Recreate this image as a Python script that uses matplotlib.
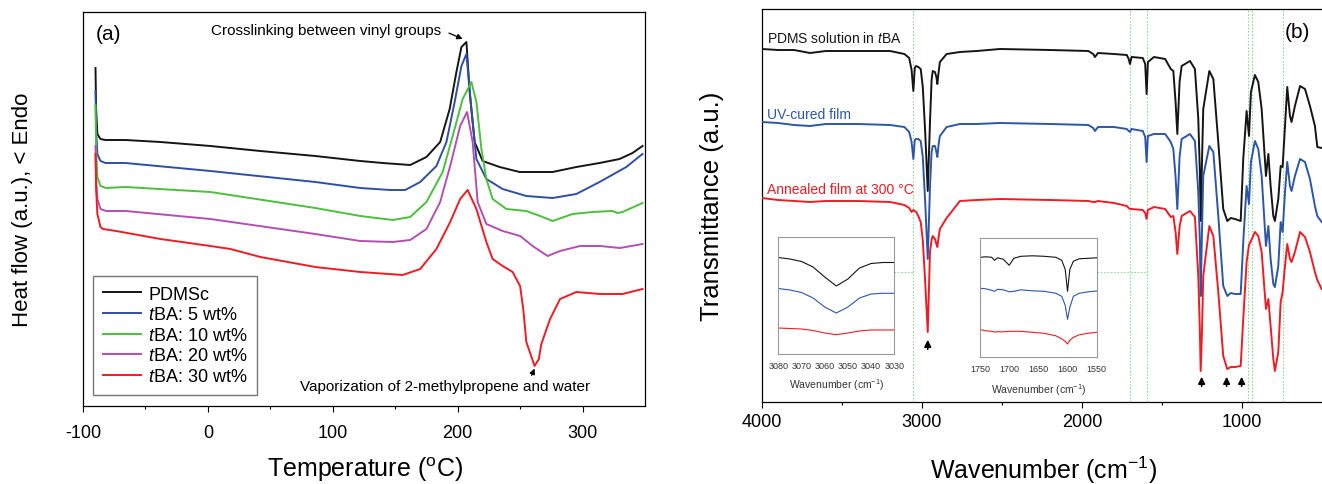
import matplotlib
matplotlib.use("Agg")
import matplotlib.pyplot as plt

plt.rcParams["font.family"] = ["Liberation Sans", "DejaVu Sans"]
plt.rcParams["mathtext.fontset"] = "custom"
plt.rcParams["mathtext.rm"] = "Liberation Sans"
plt.rcParams["mathtext.it"] = "Liberation Sans:italic"
plt.rcParams["axes.unicode_minus"] = False

# ---------------- (a) DSC DATA ----------------
# temperature (C) and heat flow (a.u., offset curves)
T_pdmsc = [-90, -89.5, -88.5, -86, -82, -66, -38, 2, 42, 86, 122, 140, 162, 175,
           186, 193.6, 199, 203, 207, 209.6, 213.6, 220, 233.6, 249.6, 276, 295,
           313.6, 329.6, 340, 348]
H_pdmsc = [338, 297, 272, 267, 266, 266, 264, 260, 255, 250, 245, 243, 241, 249,
           264, 297, 334, 359, 364, 314, 264, 245, 239, 234, 234, 239,
           243, 247, 253, 260]

T_5 = [-90, -89.5, -88.5, -86, -82, -66, 2, 86, 122, 146, 158, 170, 183, 191,
       197.6, 203, 207, 211, 215, 223, 236, 255, 276, 295, 313.6, 335, 348]
H_5 = [315, 277, 252, 245, 243, 243, 235, 224, 218, 216, 216, 224, 240, 264,
       304, 340, 352, 297, 247, 227, 217, 210, 208, 212, 224, 239, 252]

T_10 = [-90, -89.5, -88.5, -86, -81.5, -66, 2, 86, 122, 148, 162, 175, 188, 196,
        204, 211, 215, 219, 223, 228, 239, 255, 266, 276, 292, 308, 324, 328,
        332, 348]
H_10 = [301, 257, 229, 220, 218, 219, 214, 198, 190, 186, 189, 204, 234, 270,
        307, 324, 304, 257, 227, 207, 197, 195, 190, 185, 192, 194, 195, 193,
        194, 203]

T_20 = [-90, -89.5, -88.5, -86, -81.5, -66, 2, 86, 122, 148, 162, 175, 186, 194,
        202, 207.5, 212, 216, 223, 236, 250, 260, 272, 282, 298, 314, 330, 348]
H_20 = [260, 227, 207, 197, 195, 195, 187, 172, 165, 164, 166, 177, 204, 240,
        280, 294, 264, 204, 182, 175, 170, 160, 150, 155, 160, 160, 158, 162]

T_30 = [-90, -89.5, -88.5, -86, -84, -73.5, -38, 2, 18, 42, 86, 122, 156, 170,
        183, 194, 202, 208, 215, 223, 228, 236, 244, 250, 252.5, 255, 261.6,
        265, 267, 274, 282, 295, 314, 332, 348]
H_30 = [252, 217, 192, 179, 177, 175, 167, 160, 157, 149, 139, 134, 131, 137,
        157, 184, 207, 216, 197, 164, 147, 140, 134, 120, 97, 64, 40,
        47, 62, 87, 107, 114, 112, 112, 117]

dsc_labels = ["PDMSc", r"$\mathit{t}$BA: 5 wt%", r"$\mathit{t}$BA: 10 wt%",
              r"$\mathit{t}$BA: 20 wt%", r"$\mathit{t}$BA: 30 wt%"]
dsc_colors = ["#151515", "#2f4fa0", "#4cbf3c", "#b34fb3", "#f01c24"]

# ---------------- (b) FTIR DATA ----------------
W = [4000, 3900, 3800, 3700, 3600, 3400, 3200, 3110, 3080, 3065,
     3054, 3045, 3037, 3023, 3008, 2995, 2980, 2964, 2950, 2940,
     2933, 2919, 2910, 2904, 2896, 2888, 2846, 2763, 2658, 2512,
     2200, 1960, 1930, 1919, 1900, 1800, 1720, 1708, 1700, 1690,
     1620, 1605, 1596, 1588, 1550, 1480, 1445, 1429, 1415, 1404,
     1390, 1377, 1325, 1294, 1273, 1263, 1258, 1250, 1242, 1204,
     1179, 1148, 1117, 1092, 1070, 1044, 1008, 992, 971, 956,
     944, 919, 898, 877, 850, 835, 821, 804, 794, 773,
     758, 746, 731, 717, 700, 690, 669, 637, 606, 575,
     544, 529, 502]
Y_solution = [353, 352, 352, 349, 351, 351, 351, 348, 344, 332,
              311, 334, 336, 335, 333, 315, 270, 211, 280, 322,
              331, 330, 325, 318, 330, 340, 348, 350, 351, 353,
              352, 351, 348, 345, 349, 348, 347, 343, 338, 345,
              344, 338, 308, 340, 345, 343, 333, 331, 300, 268,
              320, 336, 341, 333, 283, 230, 181, 240, 293, 331,
              323, 260, 193, 181, 184, 183, 181, 243, 291, 266,
              310, 327, 320, 293, 226, 248, 216, 186, 181, 203,
              236, 235, 276, 315, 286, 280, 296, 316, 313, 296,
              276, 255, 254]
Y_uv = [280, 279, 277, 276, 278, 278, 277, 275, 270, 260,
        243, 262, 263, 263, 261, 245, 200, 143, 215, 250,
        256, 256, 250, 245, 258, 266, 275, 278, 278, 279,
        278, 277, 274, 271, 275, 275, 273, 271, 270, 273,
        271, 265, 240, 266, 268, 268, 260, 253, 225, 193,
        245, 263, 268, 261, 210, 160, 106, 170, 226, 256,
        250, 186, 116, 106, 109, 108, 108, 160, 216, 198,
        240, 261, 253, 226, 156, 176, 143, 118, 115, 136,
        180, 170, 210, 240, 216, 211, 226, 243, 240, 223,
        196, 186, 180]
Y_annealed = [204, 202, 201, 200, 201, 201, 200, 197, 194, 190,
              192, 191, 190, 186, 180, 162, 120, 70, 150, 162,
              166, 163, 158, 155, 165, 173, 184, 201, 202, 203,
              202, 201, 200, 200, 201, 199, 196, 194, 193, 193,
              192, 189, 183, 192, 195, 193, 185, 186, 170, 148,
              175, 186, 191, 185, 126, 70, 31, 70, 126, 176,
              166, 110, 46, 33, 35, 35, 36, 83, 140, 157,
              161, 170, 166, 150, 93, 103, 76, 43, 31, 50,
              100, 110, 136, 158, 143, 140, 150, 170, 165, 150,
              130, 122, 113]

ftir_labels = [r"PDMS solution in $\mathit{t}$BA", "UV-cured film",
               "Annealed film at 300 \u00b0C"]
ftir_colors = ["#151515", "#2e56a8", "#ee1c25"]

# insets
W_in1 = [3080, 3075, 3070, 3065, 3060, 3055, 3050, 3045, 3040, 3035, 3030]
in1_solution = [96.5, 95, 92.5, 87, 77, 68, 75, 86, 90.5, 91.5, 91.5]
in1_uv = [65.5, 64, 61.5, 56, 47, 41, 47, 56, 60, 60.7, 60.7]
in1_annealed = [26, 25.5, 25, 23.5, 21, 19.3, 21, 23, 24, 24, 24]

W_in2 = [1750, 1740, 1730, 1725, 1720, 1710, 1700, 1692, 1680, 1660,
         1640, 1620, 1610, 1604, 1600, 1596, 1590, 1580, 1565, 1550]
in2_solution = [100, 100.5, 100, 97, 99.5, 98, 92, 99, 101, 101.5,
                101, 100, 97, 88, 66, 88, 96, 98.5, 99, 99.5]
in2_uv = [69, 68.5, 67, 66, 68, 67.5, 65.5, 66, 67.5, 66.5,
          66, 64, 61, 52, 38, 50, 61, 64, 65.5, 66.3]
in2_annealed = [27.6, 26.5, 26, 25.3, 25.5, 25.5, 26, 26, 26, 25,
                24, 21.5, 18.5, 16, 13.3, 17, 20, 22.5, 24, 25]

guide_W = [3058, 1700, 1596, 960, 935, 742]
arrow_W = [1252, 1096, 1002]

# ---------------- FIGURE ----------------
fig = plt.figure(figsize=(13.22, 4.85), dpi=100)
FW, FH = 1322, 485
arrow_kw = dict(arrowstyle="-|>", color="k", lw=1.2, mutation_scale=10)

# ---------------- PANEL (a) ----------------
ax1 = fig.add_axes([83 / FW, (FH - 407) / FH, (645 - 83) / FW, (407 - 13) / FH])
dsc = [(T_pdmsc, H_pdmsc), (T_5, H_5), (T_10, H_10), (T_20, H_20), (T_30, H_30)]
for (t, h), lab, col in zip(dsc, dsc_labels, dsc_colors):
    ax1.plot(t, h, color=col, lw=1.4, label=lab)

ax1.set_xlim(-100, 350)
ax1.set_ylim(0, 394)
ax1.set_yticks([])
ax1.set_xticks([-100, 0, 100, 200, 300])
ax1.set_xticks([-50, 50, 150, 250], minor=True)
ax1.tick_params(axis="x", which="major", direction="out", length=4, width=0.8,
                labelsize=13, pad=9)
ax1.tick_params(axis="x", which="minor", direction="out", length=2.5, width=0.8)
for s in ax1.spines.values():
    s.set_linewidth(0.9)

ax1.set_xlabel(r"Temperature ($^{\rm o}$C)", fontsize=18, va="center")
ax1.xaxis.set_label_coords(0.502, -0.16)
ax1.set_ylabel("Heat flow (a.u.), < Endo", fontsize=16, va="center")
ax1.yaxis.set_label_coords(-0.108, 0.5)

ax1.text(-89.6, 373, "(a)", fontsize=15, va="center")
ax1.text(187, 376, "Crosslinking between vinyl groups", fontsize=11,
         ha="right", va="center")
ax1.annotate("", xy=(206, 366), xytext=(191, 374),
             arrowprops=dict(arrowstyle="-|>", color="k", lw=0.9, mutation_scale=8))
ax1.text(73.6, 20, "Vaporization of 2-methylpropene and water", fontsize=11,
         va="center")
ax1.annotate("", xy=(262.4, 40), xytext=(258.4, 28),
             arrowprops=dict(arrowstyle="-|>", color="k", lw=0.9, mutation_scale=8))

leg = ax1.legend(loc="lower left", bbox_to_anchor=(10 / 562, 11 / 394),
                 fontsize=13, frameon=True, fancybox=False, edgecolor="#555555",
                 handlelength=2.1, handletextpad=0.4, labelspacing=0.2,
                 borderpad=0.55, borderaxespad=0)
leg.get_frame().set_linewidth(1.0)

# ---------------- PANEL (b) ----------------
ax2 = fig.add_axes([762 / FW, (FH - 403) / FH, (1325 - 762) / FW, (403 - 10) / FH])
for w in guide_W:
    ax2.axvline(w, color="#8fdc9a", lw=0.8, ls=(0, (1.5, 1.5)), zorder=1)
ax2.plot([3173, 3058], [129.7, 129.7], color="#8fdc9a", lw=0.8, ls=(0, (1.5, 1.5)))
ax2.plot([1908, 1596], [129.7, 129.7], color="#8fdc9a", lw=0.8, ls=(0, (1.5, 1.5)))

for y, col in zip([Y_solution, Y_uv, Y_annealed], ftir_colors):
    ax2.plot(W, y, color=col, lw=1.4, zorder=3)

ax2.set_xlim(4000, 481)
ax2.set_ylim(0, 393)
ax2.set_yticks([])
ax2.set_xticks([4000, 3000, 2000, 1000])
ax2.set_xticks([3500, 2500, 1500], minor=True)
ax2.tick_params(axis="x", which="major", direction="out", length=4, width=0.8,
                labelsize=13, pad=4)
ax2.tick_params(axis="x", which="minor", direction="out", length=2.5, width=0.8)
ax2.spines["right"].set_visible(False)
for s in ax2.spines.values():
    s.set_linewidth(0.9)

ax2.set_xlabel(r"Wavenumber (cm$^{-1}$)", fontsize=18, va="center")
ax2.xaxis.set_label_coords(0.5, -0.17)
ax2.set_ylabel("Transmittance (a.u.)", fontsize=18.5, va="center")
ax2.yaxis.set_label_coords(-0.089, 0.5)

for lab, col, y in zip(ftir_labels, ftir_colors, [364, 288, 213]):
    ax2.text(3969, y, lab, color=col, fontsize=10, va="center")
ax2.text(731, 370, "(b)", fontsize=15, va="center")

ax2.annotate("", xy=(2964, 65), xytext=(2964, 50), arrowprops=arrow_kw)
for w in arrow_W:
    ax2.annotate("", xy=(w, 28), xytext=(w, 13), arrowprops=arrow_kw)

# ---------------- INSETS ----------------
narrow = ["Liberation Sans Narrow", "Liberation Sans", "DejaVu Sans"]


def inset(rect, xs, curves, xlim, ylim, ticks, label_y):
    ax = fig.add_axes(rect)
    for y, col in zip(curves, ftir_colors):
        ax.plot(xs, y, color=col, lw=0.8)
    ax.set_xlim(*xlim)
    ax.set_ylim(*ylim)
    ax.set_yticks([])
    ax.set_xticks(ticks)
    ax.tick_params(axis="x", length=0, pad=5, labelsize=6.5, labelcolor="#333333")
    for t in ax.get_xticklabels():
        t.set_family(narrow)
    for s in ax.spines.values():
        s.set_color("#9a9a9a")
        s.set_linewidth(0.8)
    ax.set_xlabel(r"Wavenumber (cm$^{-1}$)", fontsize=7.5, color="#333333",
                  family=narrow, va="center")
    ax.xaxis.set_label_coords(0.5, label_y)
    return ax


inset([778.3 / FW, (FH - 355) / FH, 116 / FW, 116.7 / FH], W_in1,
      [in1_solution, in1_uv, in1_annealed], (3080, 3030), (0, 116.7),
      [3080, 3070, 3060, 3050, 3040, 3030], -30 / 116.7)
inset([980 / FW, (FH - 358.3) / FH, 116.7 / FW, 119 / FH], W_in2,
      [in2_solution, in2_uv, in2_annealed], (1750, 1550), (0, 119),
      [1750, 1700, 1650, 1600, 1550], -31.7 / 119)

fig.savefig("out.png", dpi=100)
